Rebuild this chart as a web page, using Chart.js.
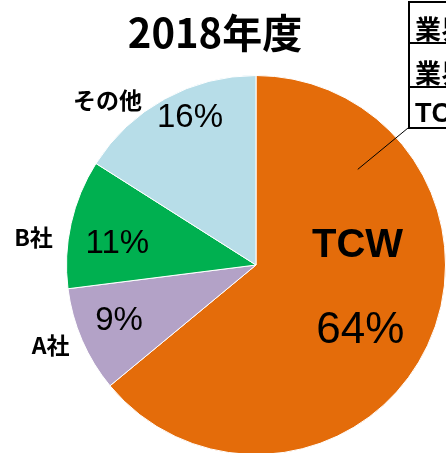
<!DOCTYPE html>
<html>
<head>
<meta charset="utf-8">
<script src="https://cdn.jsdelivr.net/npm/chart.js@4.4.1/dist/chart.umd.min.js"></script>
<style>
  html, body { margin: 0; padding: 0; background: #fff; overflow: hidden; }
  #wrap { position: relative; width: 446px; height: 460px; }
</style>
</head>
<body>
<div id="wrap"><canvas id="chart-share"></canvas></div>
<script>
const TITLE      = '2018年度';
const categories = ['TCW', 'A社', 'B社', 'その他'];
const shares     = [64, 9, 11, 16];
const colors     = ['#E46C0A', '#B3A2C7', '#00B050', '#B7DDE8'];
const tableRows  = ['業界', '業界', 'TCW'];

const JP = '"Noto Sans CJK JP", "Noto Sans", sans-serif';
const LAT = '"Liberation Sans", Arial, sans-serif';

// label placement: f = fraction across the slice angle, r = fraction of radius
const valuePos = [{ f: 0.53, r: 0.65 }, { f: 0.54, r: 0.78 }, { f: 0.40, r: 0.74 }, { f: 0.58, r: 0.85 }];
const namePos  = [{ f: 0.345, r: 0.545 }, { f: 0.56, r: 1.165 }, { f: 0.36, r: 1.183 }, { f: 0.27, r: 1.17 }];

function polar(arc, p) {
  const a = arc.startAngle + (arc.endAngle - arc.startAngle) * p.f;
  const r = arc.outerRadius * p.r;
  return { x: arc.x + Math.cos(a) * r, y: arc.y + Math.sin(a) * r };
}

const labelPlugin = {
  id: 'pieLabels',
  afterDatasetsDraw(chart) {
    const ctx = chart.ctx;
    const arcs = chart.getDatasetMeta(0).data;
    ctx.save();
    ctx.fillStyle = '#000';
    ctx.textAlign = 'center';
    ctx.textBaseline = 'middle';

    // title
    ctx.font = `bold 40px ${JP}`;
    ctx.fillText(TITLE, 215, 33);

    arcs.forEach((arc, i) => {
      const v = polar(arc, valuePos[i]);
      ctx.font = i === 0 ? `44px ${LAT}` : `33px ${LAT}`;
      ctx.fillText(shares[i] + '%', v.x, v.y);

      const n = polar(arc, namePos[i]);
      ctx.font = i === 0 ? `bold 40px ${LAT}` : `bold 23px ${JP}`;
      ctx.fillText(categories[i], n.x, n.y);
    });

    // callout table (cut off by the right edge)
    const tx = 409, rowsY = [2, 43, 87, 128];
    ctx.lineWidth = 2;
    ctx.strokeStyle = '#000';
    ctx.fillStyle = '#fff';
    ctx.fillRect(tx, rowsY[0], 60, rowsY[3] - rowsY[0]);
    ctx.strokeRect(tx, rowsY[0], 60, rowsY[3] - rowsY[0]);
    ctx.beginPath();
    ctx.moveTo(tx, rowsY[1]); ctx.lineTo(tx + 60, rowsY[1]);
    ctx.moveTo(tx, rowsY[2]); ctx.lineTo(tx + 60, rowsY[2]);
    ctx.stroke();
    ctx.fillStyle = '#000';
    ctx.textAlign = 'left';
    ctx.textBaseline = 'alphabetic';
    tableRows.forEach((t, i) => {
      ctx.font = i < 2 ? `bold 26px ${JP}` : `bold 27px ${LAT}`;
      ctx.fillText(t, 415, rowsY[i + 1] - (i < 2 ? 4 : 6));
    });

    // leader line into the TCW slice
    const tip = polar(arcs[0], { f: 0.203, r: 0.737 });
    ctx.lineWidth = 1;
    ctx.beginPath();
    ctx.moveTo(tx - 1, rowsY[3]);
    ctx.lineTo(tip.x, tip.y);
    ctx.stroke();
    ctx.restore();
  },
};

new Chart(document.getElementById('chart-share'), {
  type: 'pie',
  data: {
    labels: categories,
    datasets: [{
      data: shares,
      backgroundColor: colors,
      borderColor: '#fff',
      borderWidth: 1,
      hoverOffset: 0,
    }],
  },
  options: {
    responsive: true,
    maintainAspectRatio: false,
    animation: false,
    events: [],
    layout: { padding: { left: 66, top: 75, right: 0, bottom: 5 } },
    plugins: {
      legend: { display: false },
      tooltip: { enabled: false },
      title: { display: false },
    },
  },
  plugins: [labelPlugin],
});
</script>
</body>
</html>
